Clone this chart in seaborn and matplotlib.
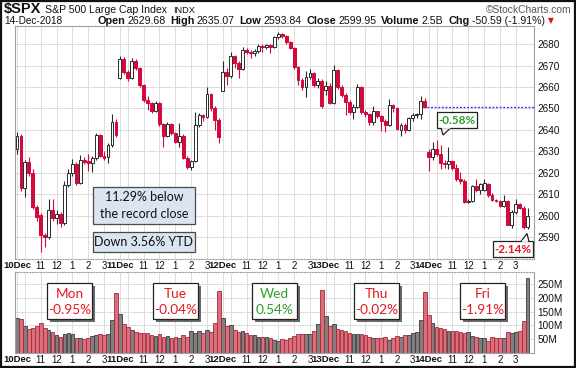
import numpy as np
import pandas as pd
import matplotlib
matplotlib.use("Agg")
import matplotlib.pyplot as plt
import seaborn as sns
from matplotlib.patches import Rectangle, Polygon

sns.set_theme(style="white")
plt.rcParams['font.family'] = ['Liberation Sans', 'DejaVu Sans']

# ---------------- data (15-minute bars, 26 per day) ----------------
opens = [
    2630.9, 2637.0, 2613.0, 2625.2, 2620.0, 2604.0, 2600.5, 2591.0, 2590.0, 2602.7, 2598.8, 2601.0, 2596.5,
    2614.5, 2619.8, 2624.0, 2615.5, 2626.0, 2625.5, 2624.5, 2627.0, 2637.6, 2628.0, 2627.5, 2633.0, 2643.8,
    2664.4, 2673.0, 2667.1, 2664.3, 2672.1, 2669.0, 2660.9, 2654.0, 2652.4, 2649.0, 2652.4, 2642.6, 2637.0,
    2642.6, 2638.4, 2634.5, 2637.2, 2627.1, 2622.9, 2625.5, 2642.3, 2647.0, 2646.0, 2656.6, 2650.2, 2644.5,
    2658.2, 2667.1, 2665.0, 2674.6, 2671.0, 2668.5, 2677.2, 2676.5, 2675.8, 2676.6, 2679.3, 2678.6, 2679.5,
    2678.5, 2683.2, 2684.5, 2683.8, 2681.0, 2678.0, 2669.4, 2663.2, 2660.1, 2664.8, 2666.5, 2660.8, 2662.8,
    2658.7, 2660.6, 2652.7, 2667.9, 2660.1, 2656.3, 2653.2, 2648.5, 2650.8, 2660.0, 2648.5, 2647.3, 2643.5,
    2648.7, 2646.5, 2644.0, 2642.5, 2651.5, 2650.0, 2640.0, 2642.3, 2640.0, 2645.5, 2646.8, 2647.5, 2653.5,
    2629.7, 2627.5, 2631.0, 2629.0, 2624.5, 2624.0, 2625.5, 2622.5, 2617.0, 2616.0, 2606.5, 2607.0, 2613.8,
    2612.2, 2612.0, 2615.0, 2609.8, 2607.6, 2606.8, 2604.5, 2607.0, 2595.8, 2601.8, 2605.5, 2603.8, 2595.0,
]
highs = [
    2639.0, 2638.0, 2626.0, 2627.5, 2622.0, 2605.0, 2601.5, 2592.0, 2608.0, 2608.0, 2602.5, 2602.0, 2616.0,
    2622.0, 2626.5, 2625.0, 2628.3, 2627.5, 2629.0, 2628.0, 2638.5, 2638.0, 2630.0, 2634.0, 2647.5, 2645.0,
    2674.35, 2673.8, 2668.0, 2673.3, 2673.0, 2669.5, 2661.5, 2656.0, 2653.0, 2653.5, 2653.0, 2643.0, 2643.5,
    2643.0, 2639.0, 2643.0, 2638.0, 2627.8, 2626.0, 2648.5, 2648.0, 2647.5, 2660.0, 2657.0, 2651.0, 2645.5,
    2672.0, 2669.0, 2676.5, 2675.0, 2672.0, 2678.5, 2678.0, 2677.0, 2677.5, 2680.0, 2679.8, 2680.0, 2680.0,
    2683.8, 2685.4, 2685.0, 2684.2, 2681.5, 2678.5, 2670.0, 2664.0, 2667.5, 2668.5, 2667.0, 2664.0, 2663.5,
    2663.0, 2662.0, 2670.2, 2668.5, 2661.0, 2657.0, 2654.0, 2652.0, 2661.5, 2660.5, 2649.5, 2648.0, 2651.0,
    2649.0, 2647.0, 2645.0, 2654.5, 2652.0, 2650.5, 2643.0, 2643.0, 2646.0, 2648.0, 2648.0, 2656.0, 2655.0,
    2631.0, 2634.5, 2635.1, 2633.0, 2626.0, 2632.0, 2626.0, 2624.0, 2620.5, 2617.0, 2608.0, 2614.5, 2617.0,
    2615.5, 2617.0, 2615.5, 2610.5, 2608.0, 2607.5, 2609.7, 2607.5, 2602.5, 2608.0, 2606.0, 2604.5, 2603.5,
]
lows = [
    2629.0, 2611.5, 2608.9, 2618.5, 2603.0, 2597.5, 2583.2, 2585.5, 2589.0, 2597.5, 2596.0, 2595.0, 2595.5,
    2613.5, 2618.5, 2614.5, 2615.0, 2624.0, 2621.0, 2620.5, 2626.0, 2627.5, 2626.0, 2624.4, 2632.0, 2636.5,
    2663.5, 2666.0, 2663.0, 2663.8, 2668.0, 2660.0, 2653.0, 2649.3, 2648.0, 2648.5, 2642.0, 2632.2, 2636.5,
    2637.5, 2634.0, 2632.2, 2626.5, 2622.0, 2621.3, 2625.0, 2641.5, 2644.0, 2645.5, 2649.0, 2640.0, 2634.0,
    2658.0, 2661.0, 2664.0, 2669.0, 2664.0, 2668.0, 2675.5, 2673.5, 2674.5, 2676.0, 2676.5, 2677.5, 2676.0,
    2678.0, 2682.5, 2683.0, 2680.0, 2677.5, 2668.5, 2661.0, 2658.5, 2655.5, 2663.5, 2660.0, 2659.5, 2650.3,
    2656.5, 2652.0, 2652.0, 2659.0, 2655.5, 2647.0, 2647.5, 2645.0, 2650.0, 2647.5, 2646.0, 2642.5, 2642.5,
    2645.5, 2639.5, 2639.0, 2642.0, 2648.5, 2640.0, 2637.3, 2638.5, 2639.5, 2644.0, 2645.5, 2645.0, 2650.0,
    2621.0, 2626.0, 2628.0, 2622.0, 2622.5, 2622.0, 2621.5, 2616.0, 2615.0, 2606.0, 2606.0, 2606.5, 2611.0,
    2610.0, 2611.5, 2609.0, 2607.0, 2606.5, 2604.0, 2604.0, 2595.5, 2594.5, 2601.0, 2603.0, 2594.0, 2593.84,
]
closes = [
    2637.0, 2613.0, 2625.2, 2620.0, 2604.0, 2599.6, 2591.0, 2590.0, 2602.7, 2598.8, 2601.0, 2596.5, 2614.5,
    2619.8, 2624.0, 2615.5, 2626.0, 2625.0, 2624.5, 2627.0, 2637.6, 2628.0, 2627.0, 2633.0, 2643.8, 2637.7,
    2673.0, 2667.1, 2664.3, 2672.1, 2669.0, 2660.9, 2654.0, 2652.4, 2649.0, 2652.4, 2642.6, 2637.0, 2642.6,
    2638.4, 2634.5, 2637.2, 2627.1, 2622.9, 2625.5, 2642.3, 2647.0, 2646.0, 2656.6, 2650.2, 2644.5, 2636.8,
    2667.1, 2665.0, 2674.6, 2671.0, 2668.5, 2677.2, 2676.5, 2675.8, 2676.6, 2679.3, 2678.6, 2679.5, 2678.5,
    2683.2, 2684.5, 2683.8, 2681.0, 2678.0, 2669.4, 2663.2, 2660.1, 2664.8, 2666.5, 2660.8, 2662.8, 2651.1,
    2660.6, 2652.7, 2667.9, 2660.1, 2656.3, 2653.2, 2648.5, 2650.8, 2660.0, 2648.5, 2647.3, 2643.5, 2648.7,
    2646.5, 2644.0, 2642.5, 2651.5, 2650.0, 2640.5, 2642.3, 2640.0, 2645.5, 2646.8, 2647.5, 2653.5, 2650.54,
    2627.5, 2631.0, 2629.0, 2624.5, 2624.0, 2625.5, 2622.5, 2617.0, 2616.0, 2606.5, 2607.0, 2613.8, 2612.2,
    2615.0, 2615.2, 2609.8, 2607.6, 2606.8, 2604.5, 2607.0, 2595.8, 2601.8, 2605.5, 2603.8, 2595.0, 2599.95,
]
volumes_m = [
    126, 122, 99, 87, 92, 98, 110, 92, 82, 75, 65, 59, 69, 72, 68, 53, 56, 51, 56, 62, 65, 68, 65, 68, 120, 217,
    141, 104, 96, 84, 75, 72, 72, 72, 65, 62, 68, 59, 63, 53, 59, 56, 65, 59, 80, 74, 81, 72, 84, 78, 108, 227,
    126, 98, 102, 84, 78, 80, 74, 65, 65, 59, 59, 59, 53, 47, 45, 50, 47, 56, 61, 68, 69, 69, 69, 80, 105, 229,
    136, 99, 104, 87, 84, 80, 74, 69, 68, 70, 65, 58, 53, 53, 56, 59, 47, 53, 61, 59, 65, 65, 72, 78, 120, 223,
    138, 108, 96, 92, 87, 81, 80, 80, 75, 72, 75, 63, 59, 53, 53, 44, 59, 56, 53, 56, 75, 74, 75, 80, 116, 274,
]
day_labels = ["10Dec", "11Dec", "12Dec", "13Dec", "14Dec"]
hour_labels = ["11", "12", "1", "2", "3"]
price_ticks = [2590, 2600, 2610, 2620, 2630, 2640, 2650, 2660, 2670, 2680]
vol_ticks = [50, 100, 150, 200, 250]
vol_tick_labels = ["50M", "100M", "150M", "200M", "250M"]
prev_close = 2650.54
day_names = ["Mon", "Tue", "Wed", "Thu", "Fri"]
day_changes = ["-0.95%", "-0.04%", "0.54%", "-0.02%", "-1.91%"]
header_fields = [("Open", "2629.68"), ("High", "2635.07"), ("Low", "2593.84"),
                 ("Close", "2599.95"), ("Volume", "2.5B"), ("Chg", "-50.59 (-1.91%)")]

# ---------------- layout ----------------
W, H = 576, 368
BARS_PER_DAY = 26
RED = "#d2093a"
GREEN = "#2e9e2e"
TXTRED = "#e8161f"

fig = plt.figure(figsize=(W / 100, H / 100), dpi=100)
fig.patch.set_facecolor("white")


def fr(x0, y0, x1, y1):
    return [x0 / W, 1 - y1 / H, (x1 - x0) / W, (y1 - y0) / H]


axp = fig.add_axes(fr(15, 26, 534, 259))
axv = fig.add_axes(fr(15, 272, 534, 353))

df = pd.DataFrame(dict(i=np.arange(len(closes)), o=opens, h=highs, l=lows, c=closes, v=volumes_m))
df["up"] = df.c >= df.o
df["dir"] = np.where(df.up, "up", "down")

# ---------------- candles ----------------
for r in df.itertuples():
    col = "#2a2a2a" if r.up else RED
    axp.vlines(r.i, r.l, r.h, color=col, lw=0.8, zorder=2)
    lo, hi = min(r.o, r.c), max(r.o, r.c)
    axp.add_patch(Rectangle((r.i - 0.36, lo), 0.72, max(hi - lo, 0.35),
                            facecolor="white" if r.up else RED, edgecolor=col,
                            lw=0.7, zorder=3))

axp.hlines(prev_close, 103.6, 130.6, color="#2a2aff", lw=1.0,
           linestyles=(0, (1.3, 1.3)), zorder=4)

# ---------------- volume ----------------
sns.barplot(data=df, x="i", y="v", hue="dir",
            palette={"up": "#7f7f7f", "down": "#d96f7b"},
            native_scale=True, dodge=False, width=0.92, errorbar=None,
            legend=False, saturation=1, linewidth=0.6, ax=axv)
for p in axv.patches:
    fc = p.get_facecolor()
    if fc[0] > 0.6:
        p.set_edgecolor("#a8283c")
    else:
        p.set_edgecolor("#3c3c3c")

# ---------------- axes styling ----------------
grid_pos, grid_lab, grid_bold = [], [], []
for d, dl in enumerate(day_labels):
    base = d * BARS_PER_DAY
    grid_pos += [base, base + 2] + [base + o for o in (6, 10, 14, 18, 22)]
    grid_lab += [dl, ""] + hour_labels
    grid_bold += [True, False] + [False] * 5

for ax in (axp, axv):
    ax.set_xlim(-0.5, 130.6)
    ax.set_xticks(grid_pos)
    ax.set_xticklabels(grid_lab)
    ax.yaxis.tick_right()
    ax.tick_params(axis="both", length=0, labelsize=7.2, labelcolor="#111111")
    ax.tick_params(axis="x", pad=1.6)
    ax.tick_params(axis="y", pad=2.5)
    for lab, b in zip(ax.get_xticklabels(), grid_bold):
        lab.set_fontweight("bold" if b else "normal")
        lab.set_fontsize(6.8 if b else 7.0)
        lab.set_color("#111111")
    ax.grid(True, color="#dcdcdc", lw=0.7)
    ax.set_axisbelow(True)
    ax.set_xlabel("")
    ax.set_ylabel("")
    for s in ax.spines.values():
        s.set_color("#a0a0a0")
        s.set_linewidth(0.8)
        s.set_visible(True)

axp.spines["bottom"].set_linestyle((0, (1, 1.5)))
axv.spines["top"].set_linestyle((0, (1, 1.5)))

axp.set_ylim(2579.9, 2688.4)
axp.set_yticks(price_ticks)
axp.set_yticklabels([str(t) for t in price_ticks])
axv.set_ylim(0, 294.5)
axv.set_yticks(vol_ticks)
axv.set_yticklabels(vol_tick_labels)


# ---------------- annotations (pixel layout) ----------------
def px(x, y):
    return (x / W, 1 - y / H)


def fbox(x0, y0, x1, y1, fc="white", ec="#222222", lw=0.9, shadow=False, z=10):
    if shadow:
        fig.add_artist(Rectangle(px(x0 + 3, y1 + 3), (x1 - x0) / W, (y1 - y0) / H,
                                 transform=fig.transFigure, facecolor="#6a6a6a",
                                 edgecolor="none", zorder=z - 1))
    fig.add_artist(Rectangle(px(x0, y1), (x1 - x0) / W, (y1 - y0) / H,
                             transform=fig.transFigure, facecolor=fc,
                             edgecolor=ec, lw=lw, zorder=z))


def ftext(x, y, s, **kw):
    kw.setdefault("ha", "center")
    kw.setdefault("va", "center")
    kw.setdefault("zorder", 12)
    fig.text(*px(x, y), s, **kw)


LATO = ["Lato", "DejaVu Sans"]

fbox(93, 187, 195, 224, fc="#dbe5f1", ec="#4a4a4a")
ftext(144, 205.5, "11.29% below\nthe record close", fontsize=9, family=LATO,
      color="#111111", linespacing=1.45)
fbox(93, 232, 195, 252, fc="#dbe5f1", ec="#4a4a4a")
ftext(144, 242.5, "Down 3.56% YTD", fontsize=9, family=LATO, color="#111111")

# callout -0.58%
fig.add_artist(Polygon([px(441, 127.5), px(443, 135), px(451, 127.5)],
                       closed=True, transform=fig.transFigure, facecolor="white",
                       edgecolor="#222222", lw=0.9, zorder=9))
fbox(437, 112, 477, 128)
fig.add_artist(Polygon([px(441.6, 128), px(450.4, 128)], closed=False,
                       transform=fig.transFigure, edgecolor="white", lw=1.2, zorder=11))
ftext(457, 120.3, "-0.58%", fontsize=8.5, family=LATO, color=GREEN, fontweight="bold")

# callout -2.14%
fig.add_artist(Polygon([px(521, 241.5), px(527, 233.5), px(529, 241.5)],
                       closed=True, transform=fig.transFigure, facecolor="white",
                       edgecolor="#222222", lw=0.9, zorder=9))
fbox(493, 241, 533, 257)
fig.add_artist(Polygon([px(521.6, 241), px(528.4, 241)], closed=False,
                       transform=fig.transFigure, edgecolor="white", lw=1.2, zorder=11))
ftext(513, 249.3, "-2.14%", fontsize=8.5, family=LATO, color=TXTRED, fontweight="bold")

# daily boxes in the volume panel
box_x = [47, 153, 252, 354, 460]
for x0, nm, ch in zip(box_x, day_names, day_changes):
    col = GREEN if not ch.startswith("-") else TXTRED
    fbox(x0, 283, x0 + 45, 318.5, shadow=True)
    ftext(x0 + 22.5, 293.5, nm, fontsize=9.8, family=LATO, color=col)
    ftext(x0 + 22.5, 309.5, ch, fontsize=9.8, family=LATO, color=col)

# ---------------- header ----------------
fig.canvas.draw()
rend = fig.canvas.get_renderer()


def put(x, ybase, s, **kw):
    t = fig.text(x / W, 1 - ybase / H, s, ha="left", va="baseline", **kw)
    return x + t.get_window_extent(rend).width


x = put(4, 13, "\\$SPX", fontsize=10.5, fontweight="bold", color="#111111")
x = put(x + 4, 13, "S&P 500 Large Cap Index", fontsize=7.6, color="#111111")
put(x + 6, 13, "INDX", fontsize=6.6, color="#111111")
fig.text(*px(571, 13), "\u00a9StockCharts.com", ha="right", va="baseline",
         fontsize=7.4, color="#555555")
put(4, 23.5, "14-Dec-2018", fontsize=7.2, color="#111111")
x = 97
for lab, val in header_fields:
    x = put(x, 23.5, lab, fontsize=7.8, fontweight="bold", color="#111111")
    x = put(x + 2.5, 23.5, val, fontsize=7.6, color="#111111")
    x += 4.5
put(x - 1.5, 23.5, "\u25bc", fontsize=5.5, color="#e0101a",
    family=["DejaVu Sans"])

# outer frame
fig.add_artist(Rectangle((0.8 / W, 0.8 / H), (W - 1.6) / W, (H - 1.6) / H,
                         transform=fig.transFigure, facecolor="none",
                         edgecolor="#111111", lw=1.6, zorder=20))

fig.savefig("out.png", dpi=100, facecolor="white")
